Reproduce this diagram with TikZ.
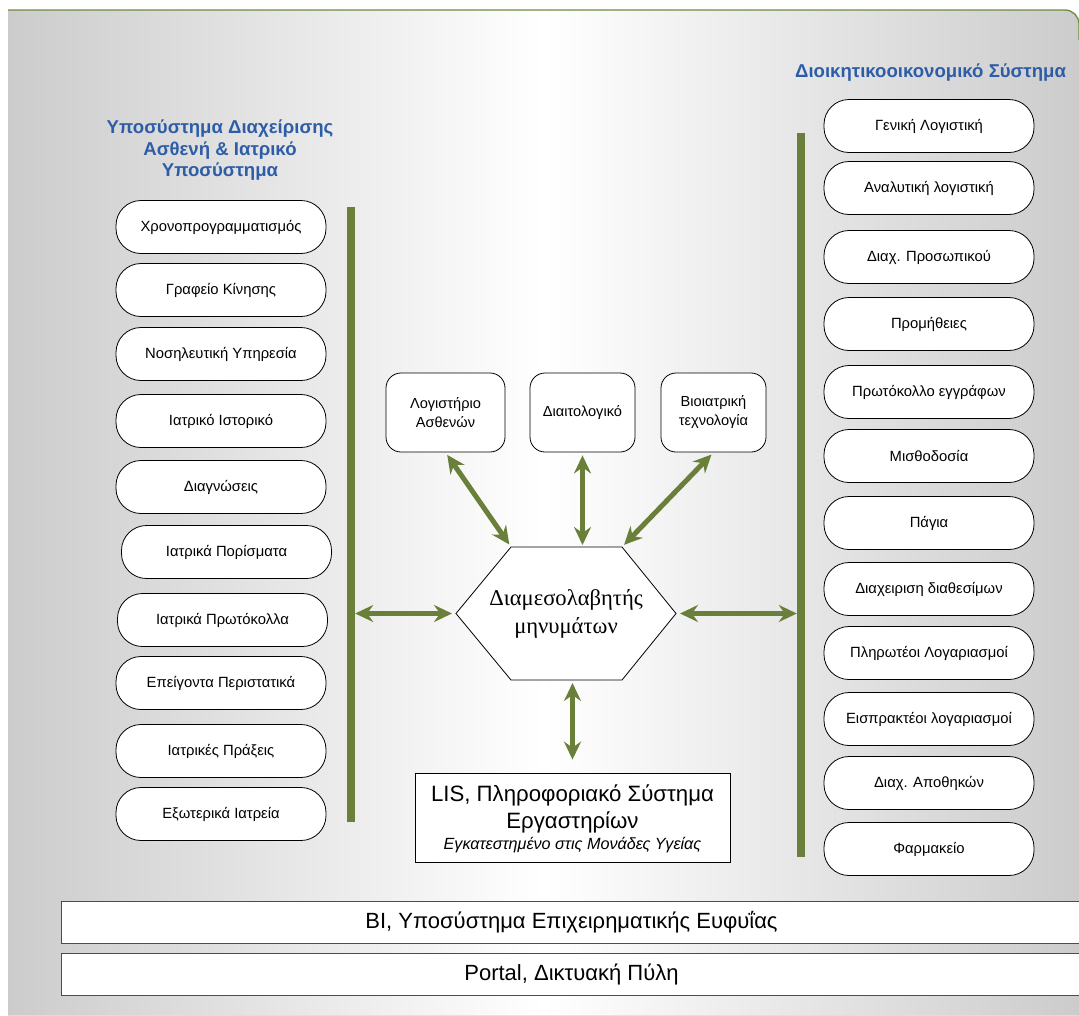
\documentclass[tikz,border=0pt]{standalone}
\usepackage{fontspec}
\setmainfont{Liberation Sans}
\newfontfamily\grserif{Liberation Serif}
\usetikzlibrary{arrows.meta,calc}
\definecolor{ttl}{RGB}{46,93,168}
\definecolor{barc}{RGB}{106,128,58}
\definecolor{sidec}{RGB}{204,204,204}
\definecolor{toplinec}{RGB}{110,140,60}
\tikzset{
 pill/.style={draw=black, line width=0.8pt, fill=white, rounded corners=25pt, minimum width=210pt, minimum height=53pt, font=\fontsize{14.8}{16}\selectfont, inner sep=0pt},
 sbox/.style={draw=black, line width=0.8pt, fill=white, rounded corners=15pt, minimum height=79pt, align=center, font=\fontsize{14.6}{19}\selectfont, inner sep=0pt},
 vbar/.style={fill=barc, minimum width=8pt, inner sep=0pt},
 arr/.style={draw=barc, line width=5pt, {Stealth[length=18pt,width=17pt,inset=6pt]}-{Stealth[length=18pt,width=17pt,inset=6pt]}},
 band/.style={draw=black!70, line width=0.8pt, fill=white, minimum height=42pt, minimum width=1021pt, inner sep=0pt, font=\fontsize{22}{26}\selectfont},
 ttlstyle/.style={text=ttl, font=\bfseries\fontsize{18.6}{21.5}\selectfont, align=center},
}
\begin{document}
\begin{tikzpicture}[x=1pt,y=-1pt]
\useasboundingbox (0,0) rectangle (1079,1015);
\fill[white] (0,0) rectangle (1079,1015);
% background panel
\fill[left color=sidec, right color=sidec, middle color=white]
  (8,1015) -- (8,10) [rounded corners=14pt] -- (1079,10) [sharp corners] -- (1079,1015) -- cycle;
\draw[toplinec, line width=1.3pt] (8,10) [rounded corners=14pt] -- (1079,10) [sharp corners] -- (1079,40);

% titles
\node[ttlstyle] (ltitle) at (220,150.5) {Υποσύστημα Διαχείρισης\\Ασθενή \& Ιατρικό\\Υποσύστημα};
\node[ttlstyle] (rtitle) at (930.5,73) {Διοικητικοοικονομικό Σύστημα};

% left column
\node[pill] (l1) at (221,227) {Χρονοπρογραμματισμός};
\node[pill] (l2) at (221,290) {Γραφείο Κίνησης};
\node[pill] (l3) at (221,354) {Νοσηλευτική Υπηρεσία};
\node[pill] (l4) at (221,421) {Ιατρικό Ιστορικό};
\node[pill] (l5) at (221,487) {Διαγνώσεις};
\node[pill] (l6) at (226.5,552) {Ιατρικά Πορίσματα};
\node[pill] (l7) at (222.5,620) {Ιατρικά Πρωτόκολλα};
\node[pill] (l8) at (221,683) {Επείγοντα Περιστατικά};
\node[pill] (l9) at (221,751) {Ιατρικές Πράξεις};
\node[pill] (l10) at (221,814) {Εξωτερικά Ιατρεία};

% right column
\node[pill] (r1) at (929,126) {Γενική Λογιστική};
\node[pill] (r2) at (929,188) {Αναλυτική λογιστική};
\node[pill] (r3) at (929,257) {Διαχ. Προσωπικού};
\node[pill] (r4) at (929,324) {Προμήθειες};
\node[pill] (r5) at (929,392) {Πρωτόκολλο εγγράφων};
\node[pill] (r6) at (929,456) {Μισθοδοσία};
\node[pill] (r7) at (929,523) {Πάγια};
\node[pill] (r8) at (929,589) {Διαχειριση διαθεσίμων};
\node[pill] (r9) at (929,653) {Πληρωτέοι Λογαριασμοί};
\node[pill] (r10) at (929,719) {Εισπρακτέοι λογαριασμοί};
\node[pill] (r11) at (929,783) {Διαχ. Αποθηκών};
\node[pill] (r12) at (929,849) {Φαρμακείο};

% bars
\node[vbar, minimum height=615pt] (lbar) at (351,514.5) {};
\node[vbar, minimum height=724pt] (rbar) at (801,495) {};

% top boxes
\node[sbox, minimum width=119pt] (lg) at (445.5,412.5) {Λογιστήριο\\Ασθενών};
\node[sbox, minimum width=105pt] (diet) at (582.5,412.5) {Διαιτολογικό};
\node[sbox, minimum width=105pt] (bio) at (713.5,412.5) {Βιοιατρική\\τεχνολογία};

% hexagon
\coordinate (hW) at (456,613.5);
\coordinate (hNW) at (511,547);
\coordinate (hNE) at (622,547);
\coordinate (hE) at (676,613.5);
\coordinate (hSE) at (622,680);
\coordinate (hSW) at (511,680);
\draw[fill=white, line width=0.8pt] (hW) -- (hNW) -- (hNE) -- (hE) -- (hSE) -- (hSW) -- cycle;
\node[align=center, font=\grserif\fontsize{22.6}{28}\selectfont] (hex) at (566,613.5) {Διαμεσολαβητής\\μηνυμάτων};

% LIS
\node[draw=black, line width=0.8pt, fill=white, minimum width=315pt, minimum height=89pt, inner sep=0pt] (lis) at (572.5,817.5) {};
\node[font=\fontsize{22.2}{27}\selectfont, align=center] (listxt) at (572.5,808.5) {LIS, Πληροφοριακό Σύστημα\\Εργαστηρίων};
\node[font=\itshape\fontsize{16.2}{18}\selectfont] (lissub) at (572.5,845) {Εγκατεστημένο στις Μονάδες Υγείας};

% bands
\node[band] (bi) at (571.5,922) {BI, Υποσύστημα Επιχειρηματικής Ευφυΐας};
\node[band] (portal) at (571.5,974) {Portal, Δικτυακή Πύλη};

% arrows
\draw[arr, shorten >=4pt] (lbar.east |- hW) -- (hW);
\draw[arr, shorten <=4pt] (hE) -- (rbar.west |- hE);
\draw[arr, shorten <=3pt, shorten >=3pt] (lg.south) -- (hNW);
\draw[arr, shorten <=3pt, shorten >=2pt] (diet.south) -- (diet.south |- hNW);
\draw[arr, shorten <=3pt, shorten >=3pt] (bio.south) -- (hNE);
\draw[arr, shorten <=3pt, shorten >=13pt] (lis.north |- hSE) -- (lis.north);
\end{tikzpicture}
\end{document}
